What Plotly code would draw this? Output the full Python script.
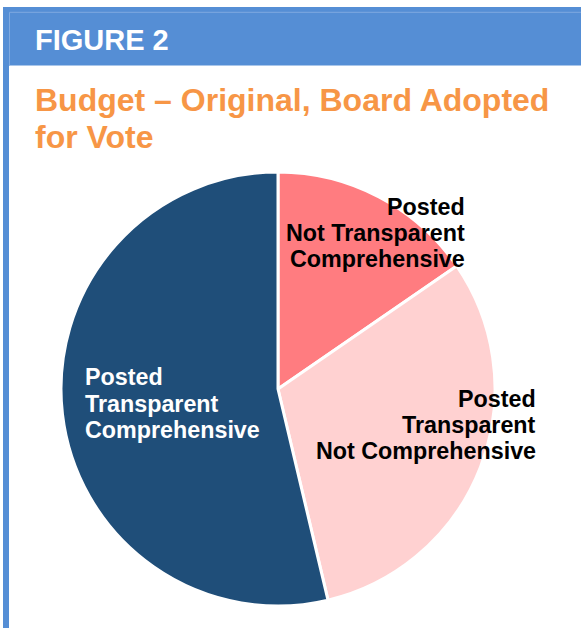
import plotly.graph_objects as go

W, H = 581, 628

categories = ["Posted Not Transparent Comprehensive",
              "Posted Transparent Not Comprehensive",
              "Posted Transparent Comprehensive"]
values = [15.4, 30.9, 53.7]
colors = ["#FF7C80", "#FFD1D1", "#1F4E79"]

label_lines = {
    0: ["Posted", "Not Transparent", "Comprehensive"],
    1: ["Posted", "Transparent", "Not Comprehensive"],
    2: ["Posted", "Transparent", "Comprehensive"],
}

title_lines = ["Budget \u2013 Original, Board Adopted", "for Vote"]
header_text = "FIGURE 2"

FONT = "Liberation Sans, Arial, sans-serif"

def px(x):
    return x / W

def py(y):
    return 1 - y / H

fig = go.Figure()
fig.add_trace(go.Pie(
    labels=categories, values=values, sort=False, direction="clockwise",
    rotation=0, textinfo="none", hoverinfo="label+percent",
    marker=dict(colors=colors, line=dict(color="white", width=3)),
    domain=dict(x=[61 / W, 495 / W], y=[1 - 606 / H, 1 - 172 / H]),
    showlegend=False,
))

shapes = [
    # left frame border
    dict(type="rect", xref="paper", yref="paper", x0=px(3), x1=px(9), y0=0, y1=py(7),
         fillcolor="#558ED5", line=dict(width=0), layer="below"),
    # header band
    dict(type="rect", xref="paper", yref="paper", x0=px(3), x1=1, y0=py(65.5), y1=py(7),
         fillcolor="#558ED5", line=dict(width=0), layer="below"),
    # inner lighter lines
    dict(type="line", xref="paper", yref="paper", x0=px(9.5), x1=1, y0=py(12.3), y1=py(12.3),
         line=dict(color="#7FA9E0", width=1), layer="below"),
    dict(type="line", xref="paper", yref="paper", x0=px(9.5), x1=px(9.5), y0=py(65.5), y1=py(12.3),
         line=dict(color="#7FA9E0", width=1), layer="below"),
]

annotations = []
# header
annotations.append(dict(text="<b>%s</b>" % header_text, x=px(32.5), y=py(49.5 - 9.4),
                        xref="paper", yref="paper", xanchor="left", yanchor="middle",
                        showarrow=False, font=dict(family=FONT, size=29, color="white")))
# title
for i, t in enumerate(title_lines):
    base = 110.5 + 37 * i
    annotations.append(dict(text="<b>%s</b>" % t, x=px(32.5), y=py(base - 10.6),
                            xref="paper", yref="paper", xanchor="left", yanchor="middle",
                            showarrow=False, font=dict(family=FONT, size=32, color="#F79646")))

# slice labels
label_cfg = {
    0: dict(x=466.5, anchor="right", bases=[214.5, 241, 267], color="black"),
    1: dict(x=537.5, anchor="right", bases=[407, 433, 459], color="black"),
    2: dict(x=82.5, anchor="left", bases=[385, 411.5, 437.5], color="white"),
}
for k, cfg in label_cfg.items():
    for line, base in zip(label_lines[k], cfg["bases"]):
        annotations.append(dict(text="<b>%s</b>" % line, x=px(cfg["x"]), y=py(base - 7.7),
                                xref="paper", yref="paper", xanchor=cfg["anchor"],
                                yanchor="middle", align=cfg["anchor"], showarrow=False,
                                font=dict(family=FONT, size=23.3, color=cfg["color"])))

fig.update_layout(
    width=W, height=H, margin=dict(l=0, r=0, t=0, b=0),
    paper_bgcolor="white", plot_bgcolor="white",
    shapes=shapes, annotations=annotations,
)

fig.write_html("out.html", config={"displayModeBar": False},
               post_script="document.body.style.margin='0';document.body.style.overflow='hidden';")
